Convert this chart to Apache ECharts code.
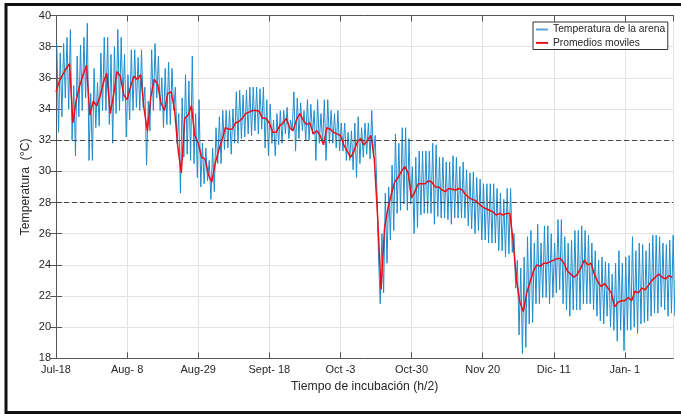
<!DOCTYPE html>
<html><head><meta charset="utf-8">
<script src="https://cdn.jsdelivr.net/npm/echarts@6/dist/echarts.min.js"></script>
<style>html,body{margin:0;padding:0;background:#fff}#c{width:681px;height:414px}</style>
</head><body><div id="c"></div>
<script>
// Tick labels every 21 days (index = tick number)
const tickLabels = ['Jul-18','Aug- 8','Aug-29','Sept- 18','Oct -3','Oct-30','Nov 20','Dic- 11','Jan- 1'];
const daysPerTick = 21;
const xMaxDay = 182.3;

// Daily maximum of sand temperature (day 0 .. 182)
const dailyMax = [
38.2,37.6,38.2,38.6,39.1,35.5,37.4,38.1,38.6,39.5,
35.0,36.6,35.7,37.6,38.6,38.6,37.5,38.0,39.1,38.6,
37.5,36.2,37.8,37.8,37.3,37.8,35.4,34.5,37.8,38.2,
37.4,36.0,36.6,37.0,36.6,35.4,33.7,34.7,36.2,35.8,
37.4,33.7,34.6,31.8,31.5,30.7,31.5,32.8,33.5,33.9,
33.9,33.9,34.0,35.1,35.2,34.9,35.2,35.4,35.4,35.4,
35.3,35.4,34.6,34.3,33.3,33.7,33.9,33.9,34.1,33.3,
35.1,34.7,34.4,33.9,34.6,34.3,33.9,34.6,33.7,34.6,
34.6,33.9,33.7,33.9,33.1,33.1,32.5,32.6,33.1,33.5,
32.8,33.1,33.1,33.9,32.3,24.5,26.0,28.6,29.0,30.4,
32.4,31.8,32.8,32.8,32.1,30.3,30.9,31.3,31.3,31.3,
31.3,31.8,31.7,30.9,30.9,30.6,30.6,31.0,30.9,30.3,
30.6,30.1,29.9,29.95,29.6,29.5,29.2,29.2,29.2,29.2,
28.9,28.6,28.2,28.9,28.9,26.0,24.3,23.8,24.5,25.8,
26.2,25.4,26.6,25.4,26.5,26.5,26.0,25.4,26.9,26.9,
25.8,25.4,25.6,26.2,26.2,26.5,26.2,25.9,25.4,24.9,
24.3,24.5,24.2,24.1,23.4,24.1,24.9,24.1,24.5,24.6,
25.8,24.9,25.4,25.3,24.9,25.4,25.9,25.9,25.8,25.4,
25.3,25.6,25.9
];
// Daily minimum of sand temperature
const dailyMin = [
32.5,33.5,34.7,34.0,32.0,31.0,33.5,33.9,34.7,30.7,
30.7,32.8,32.9,33.9,33.9,33.0,31.8,33.7,33.9,34.5,
32.2,33.3,33.9,34.1,33.9,34.1,30.4,32.6,33.9,34.7,
33.9,32.8,33.0,33.0,33.9,31.8,28.6,30.9,31.1,30.7,
30.5,29.6,29.0,29.2,29.4,28.2,28.7,30.5,30.5,31.4,
31.5,31.1,31.8,31.8,32.1,32.2,32.4,32.3,32.6,32.4,
32.7,31.5,31.0,31.8,31.0,31.7,31.8,32.4,32.1,32.6,
31.3,32.1,32.6,32.0,32.0,32.4,30.7,31.8,31.8,30.7,
31.8,31.8,31.5,31.3,31.3,30.7,30.7,30.1,29.6,30.5,
30.9,31.1,30.8,30.9,29.0,21.5,22.2,24.1,25.6,26.2,
27.3,27.5,27.9,27.5,27.9,26.0,26.4,27.2,27.3,27.3,
27.3,26.6,27.1,27.0,27.0,26.9,26.6,27.0,27.0,27.0,
27.0,26.5,26.3,26.0,26.2,25.6,25.6,25.4,25.4,25.4,
24.9,24.9,24.5,24.7,24.8,22.5,19.5,18.3,18.7,20.2,
20.3,21.5,21.5,21.9,21.9,21.5,21.9,22.2,22.4,21.5,
21.1,20.7,21.1,21.1,21.1,21.5,21.5,21.5,21.1,20.7,
20.4,20.2,20.7,20.0,19.8,19.1,19.8,18.5,19.8,19.8,
20.0,19.6,20.2,20.3,20.4,20.7,20.9,20.9,21.3,21.1,
20.7,20.9,20.7
];
// Moving average (one value per day)
const movingAvg = [
35.1,35.8,36.2,36.6,36.9,33.1,34.6,35.5,36.2,36.8,
33.6,34.5,34.2,34.8,35.7,36.3,33.7,34.9,36.4,36.1,
34.9,34.6,35.4,36.1,35.9,36.2,34.0,32.6,34.8,35.9,
35.6,34.4,33.9,35.0,35.1,34.0,31.5,29.9,33.4,33.6,
34.2,32.3,31.8,30.9,30.8,29.8,29.3,30.5,31.3,32.0,
32.8,32.7,32.7,33.1,33.2,33.4,33.7,33.8,33.9,33.9,
33.85,33.4,33.4,33.1,32.5,32.5,32.9,33.1,33.4,32.8,
32.6,33.3,33.7,33.3,33.0,33.1,32.4,32.6,32.3,31.7,
32.8,32.7,32.5,32.4,32.3,31.7,31.3,30.9,31.3,31.9,
32.1,31.7,32.0,32.3,30.8,27.0,22.4,26.3,27.6,28.5,
29.3,29.6,30.0,30.3,29.9,28.3,28.7,29.2,29.2,29.2,
29.4,29.3,29.0,29.0,28.8,28.7,28.9,28.85,28.8,28.9,
28.8,28.5,28.3,28.2,28.1,27.9,27.7,27.6,27.5,27.4,
27.2,27.3,27.2,27.3,27.3,25.5,23.0,21.6,21.0,22.2,
22.9,23.6,24.0,23.9,24.1,24.1,24.2,24.3,24.4,24.4,
24.1,23.6,23.4,23.2,23.4,23.8,24.3,24.0,24.1,23.4,
22.9,22.6,22.8,22.5,22.2,21.3,21.6,21.7,21.7,21.9,
21.7,22.3,22.2,22.5,22.4,22.7,23.0,23.2,23.4,23.2,
23.1,23.3,23.2
];
const thresholds = [32, 28];

const blueData = [];
dailyMax.forEach((v, i) => { blueData.push([i + 0.25, v]); blueData.push([i + 0.75, dailyMin[i]]); });
const redData = movingAvg.map((v, i) => [i, v]);

const FONT = "'Liberation Sans', Arial, Helvetica, sans-serif";
const AX = '#555';
const TXT = '#262626';
function xFmt(v) {
  const k = v / daysPerTick;
  const r = Math.round(k);
  return Math.abs(k - r) < 1e-6 && tickLabels[r] !== undefined ? tickLabels[r] : '';
}
const chart = echarts.init(document.getElementById('c'), null, {renderer: 'canvas'});
chart.setOption({
  animation: false,
  backgroundColor: '#fff',
  textStyle: {fontFamily: FONT},
  grid: {left: 56, right: 7.7, top: 15.5, bottom: 55.7, containLabel: false},
  graphic: [{type: 'rect', shape: {x: 6, y: 4.5, width: 700, height: 408}, style: {fill: 'none', stroke: '#111', lineWidth: 3}, silent: true}],
  legend: {
    orient: 'vertical', left: 533, top: 22,
    padding: [1.5, 2.6, 0.6, 3], itemGap: 1.4, itemWidth: 12, itemHeight: 2,
    icon: 'rect', borderColor: '#333', borderWidth: 1, backgroundColor: '#fff',
    textStyle: {fontSize: 10.3, color: TXT, lineHeight: 12, fontFamily: FONT},
    data: [{name: 'Temperatura de la arena', itemStyle: {color: '#5fa3d6'}}, {name: 'Promedios moviles', itemStyle: {color: '#e8111b'}}]
  },
  xAxis: [{
    type: 'value', min: 0, max: xMaxDay, interval: daysPerTick, position: 'bottom',
    axisLine: {show: true, lineStyle: {color: AX, width: 1}},
    axisTick: {show: true, inside: true, length: 6, lineStyle: {color: AX}},
    axisLabel: {fontSize: 11, color: TXT, margin: 6, formatter: xFmt, fontFamily: FONT, showMaxLabel: false},
    splitLine: {show: true, lineStyle: {color: '#e3e3e3', width: 1}},
    name: 'Tiempo de incubación (h/2)', nameLocation: 'middle', nameGap: 22, nameMoveOverlap: false,
    nameTextStyle: {fontSize: 12.2, color: TXT, fontFamily: FONT}
  }, {
    type: 'value', min: 0, max: xMaxDay, interval: daysPerTick, position: 'top',
    axisLine: {show: true, lineStyle: {color: AX, width: 1}},
    axisTick: {show: true, inside: true, length: 6, lineStyle: {color: AX}},
    axisLabel: {show: false}, splitLine: {show: false}
  }],
  yAxis: [{
    type: 'value', min: 18, max: 40, interval: 2, position: 'left',
    axisLine: {show: true, lineStyle: {color: AX, width: 1}},
    axisTick: {show: true, inside: true, length: 6, lineStyle: {color: AX}},
    axisLabel: {fontSize: 11, color: TXT, margin: 5, fontFamily: FONT},
    splitLine: {show: true, lineStyle: {color: '#e3e3e3', width: 1}},
    name: 'Temperatura  (°C)', nameLocation: 'middle', nameGap: 24, nameRotate: 90, nameMoveOverlap: false,
    nameTextStyle: {fontSize: 12.2, color: TXT, fontFamily: FONT}
  }, {
    type: 'value', min: 18, max: 40, interval: 2, position: 'right',
    axisLine: {show: true, lineStyle: {color: AX, width: 1}},
    axisTick: {show: true, inside: true, length: 6, lineStyle: {color: AX}},
    axisLabel: {show: false}, splitLine: {show: false}
  }],
  series: [{
    name: 'Temperatura de la arena', type: 'line', data: blueData,
    showSymbol: false, symbol: 'none', clip: true,
    lineStyle: {color: '#1f8ccc', width: 1}, itemStyle: {color: '#1f8ccc'},
    markLine: {
      silent: true, symbol: 'none', label: {show: false},
      lineStyle: {color: '#444', type: [5, 3], width: 1},
      data: thresholds.map(v => ({yAxis: v}))
    }
  }, {
    name: 'Promedios moviles', type: 'line', data: redData,
    showSymbol: false, symbol: 'none', clip: true,
    lineStyle: {color: '#e8111b', width: 1.5}, itemStyle: {color: '#e8111b'}
  }]
});
</script></body></html>
